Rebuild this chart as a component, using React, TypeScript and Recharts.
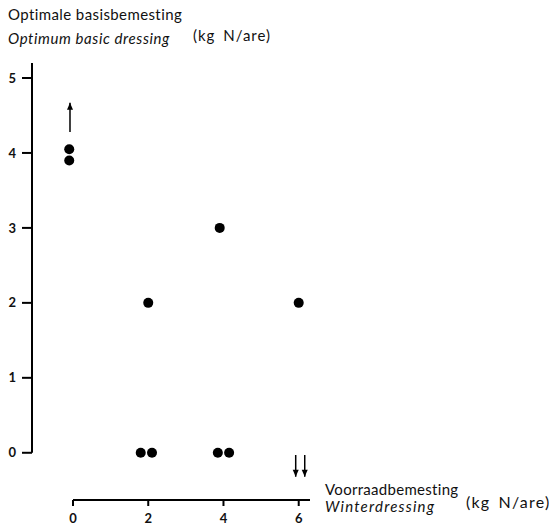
import { ScatterChart, Scatter, XAxis, YAxis, ReferenceLine } from "recharts";

// measured points (winter dressing, optimum basic dressing)
const winterDressing = [-0.1, -0.1, 2, 3.9, 6, 1.8, 2.1, 3.85, 4.15];
const basicDressing = [4.05, 3.9, 2, 3, 2, 0, 0, 0, 0];

// arrows: x, tail y, head y
const arrowX = [-0.08, 5.92, 6.16];
const arrowTail = [4.28, -0.03, -0.03];
const arrowHead = [4.67, -0.32, -0.32];

const xTicks = [0, 2, 4, 6];
const yTicks = [0, 1, 2, 3, 4, 5];

const X_MIN = -1.09;
const X_MAX = 6.3;
const Y_MIN = -0.63;
const Y_MAX = 5.2;

const points = winterDressing.map((x, i) => ({ x, y: basicDressing[i] }));
const heads = arrowX.map((x, i) => ({
  x,
  y: arrowHead[i],
  up: arrowHead[i] > arrowTail[i],
}));

const ArrowHead = (props: any) => {
  const { cx, cy, payload } = props;
  const d = payload.up ? 1 : -1;
  return (
    <polygon
      points={`${cx},${cy} ${cx - 3},${cy + 7 * d} ${cx + 3},${cy + 7 * d}`}
      fill="#000"
    />
  );
};

const txt: React.CSSProperties = {
  position: "absolute",
  fontSize: 15,
  color: "#111",
  whiteSpace: "nowrap",
  lineHeight: "18px",
  letterSpacing: 0.4,
};

export default function App() {
  return (
    <div style={{ position: "relative", width: 549, height: 519, fontFamily: "Lato, sans-serif" }}>
      <div style={{ ...txt, left: 0, top: -3 }}>Optimale basisbemesting</div>
      <div style={{ ...txt, left: 0, top: 21, fontStyle: "italic", letterSpacing: 0.6 }}>Optimum basic dressing</div>
      <div style={{ ...txt, left: 185, top: 18, wordSpacing: 3, letterSpacing: 1 }}>(kg N/are)</div>
      <div style={{ ...txt, left: 317, top: 472, letterSpacing: 0.3 }}>Voorraadbemesting</div>
      <div style={{ ...txt, left: 317, top: 489, fontStyle: "italic", letterSpacing: 1.2 }}>Winterdressing</div>
      <div style={{ ...txt, left: 458, top: 485, fontSize: 16, wordSpacing: 3, letterSpacing: 1.2 }}>(kg N/are)</div>
      <ScatterChart width={549} height={519} margin={{ top: 55, right: 247, bottom: 0, left: 0 }}>
        <XAxis
          type="number"
          dataKey="x"
          domain={[X_MIN, X_MAX]}
          ticks={xTicks}
          axisLine={false}
          tickLine={{ stroke: "#000", strokeWidth: 2 }}
          tickSize={6}
          tickMargin={8}
          height={27}
          tick={{ fill: "#111", fontSize: 13, fontWeight: 700 }}
          allowDataOverflow
        />
        <YAxis
          type="number"
          dataKey="y"
          domain={[Y_MIN, Y_MAX]}
          ticks={yTicks}
          axisLine={false}
          tickLine={{ stroke: "#000", strokeWidth: 2 }}
          tickSize={10}
          tickMargin={6}
          width={24}
          tick={{ fill: "#111", fontSize: 13, fontWeight: 700 }}
          allowDataOverflow
        />
        <ReferenceLine
          segment={[{ x: X_MIN, y: 0 }, { x: X_MIN, y: Y_MAX }]}
          stroke="#000"
          strokeWidth={2}
          ifOverflow="visible"
        />
        <ReferenceLine
          segment={[{ x: 0, y: Y_MIN }, { x: X_MAX, y: Y_MIN }]}
          stroke="#000"
          strokeWidth={2}
          ifOverflow="visible"
        />
        {arrowX.map((x, i) => (
          <ReferenceLine
            key={i}
            segment={[{ x, y: arrowTail[i] }, { x, y: arrowHead[i] }]}
            stroke="#000"
            strokeWidth={1.5}
            ifOverflow="visible"
          />
        ))}
        <Scatter data={points} fill="#000" isAnimationActive={false}
          shape={(p: any) => <circle cx={p.cx} cy={p.cy} r={5} fill="#000" />} />
        <Scatter data={heads} fill="#000" isAnimationActive={false} shape={ArrowHead} />
      </ScatterChart>
    </div>
  );
}
